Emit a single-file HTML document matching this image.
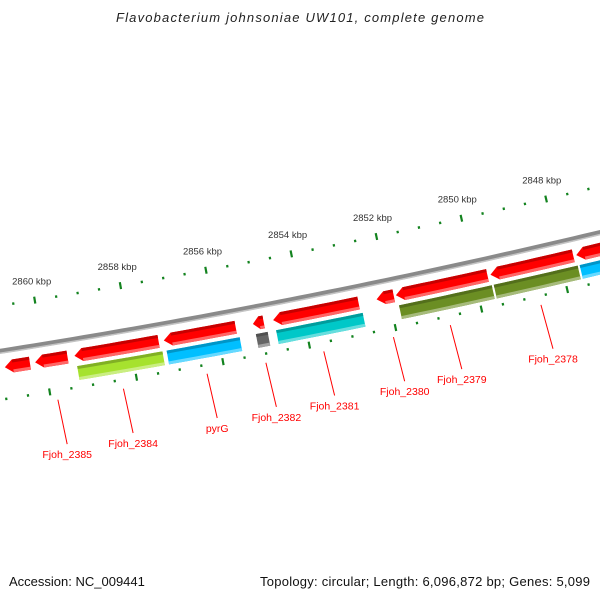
<!DOCTYPE html>
<html><head><meta charset="utf-8"><style>
html,body{margin:0;padding:0;background:#fff;}
svg{display:block;}
text{font-family:"Liberation Sans","DejaVu Sans",sans-serif;}
</style></head><body>
<svg id="map" width="600" height="600" viewBox="0 0 600 600" xmlns="http://www.w3.org/2000/svg">
<rect x="0" y="0" width="600" height="600" fill="#fff"/>
<text x="116" y="22" textLength="368" lengthAdjust="spacing" font-size="13" font-style="italic" fill="#222">Flavobacterium johnsoniae UW101, complete genome</text>
<g id="ticks"></g>
<g id="backbone"></g>
<g id="genes"></g>
<g id="labels"></g>
<text x="9" y="586" font-size="13" fill="#111">Accession: NC_009441</text>
<text x="260" y="586" textLength="330" lengthAdjust="spacing" font-size="13" fill="#111">Topology: circular; Length: 6,096,872 bp; Genes: 5,099</text>
</svg>
<script>
// ---- data ----
const geneStarts = [2860.92, 2860.22, 2859.31, 2857.24, 2855.17, 2854.70, 2852.29, 2851.84, 2849.63, 2847.62];
const geneEnds   = [2860.34, 2859.47, 2857.36, 2855.57, 2854.92, 2852.71, 2851.89, 2849.70, 2847.69, 2846.30];
const geneCogColors = [null, null, "#a6e22e", "#00bfff", "#666666", "#00c8c8", null, "#6b8e23", "#6b8e23", "#00bfff"];
const geneLabels = ["", "Fjoh_2385", "Fjoh_2384", "pyrG", "Fjoh_2382", "Fjoh_2381", "Fjoh_2380", "Fjoh_2379", "Fjoh_2378", ""];
const majorTicks = [2860, 2858, 2856, 2854, 2852, 2850, 2848];
const tickLabels = ["2860 kbp", "2858 kbp", "2856 kbp", "2854 kbp", "2852 kbp", "2850 kbp", "2848 kbp"];
const minorTickStart = 2861.5, minorTickEnd = 2845.5;

// ---- geometry ----
const NS = "http://www.w3.org/2000/svg";
const R = 7800, PXPERKBP = 43.7, REFKBP = 2854;
const nx = 0.194, ny = 0.981;
const CX = 300 - R*nx, CY = 298 - R*ny;
const A0 = Math.atan2(ny, nx);
function sOf(kbp){ return (REFKBP - kbp) * PXPERKBP; }
function pt(s, d){ const a = A0 - s/R; return [CX + (R+d)*Math.cos(a), CY + (R+d)*Math.sin(a)]; }
function arcPts(s1, s2, d){ const n = Math.max(2, Math.ceil(Math.abs(s2-s1)/10)); const out=[]; for(let i=0;i<=n;i++){ out.push(pt(s1+(s2-s1)*i/n, d)); } return out; }
function ptsStr(p){ return p.map(q=>q[0].toFixed(2)+","+q[1].toFixed(2)).join(" "); }
function mk(tag, attrs, parent){ const e=document.createElementNS(NS,tag); for(const k in attrs) e.setAttribute(k, attrs[k]); parent.appendChild(e); return e; }
function shade(hex, f){ const n=parseInt(hex.slice(1),16); let r=n>>16,g=(n>>8)&255,b=n&255; if(f<0){r*=1+f;g*=1+f;b*=1+f;} else {r+= (255-r)*f; g+=(255-g)*f; b+=(255-b)*f;} return "rgb("+Math.round(r)+","+Math.round(g)+","+Math.round(b)+")"; }

// ---- ticks ----
const tg = document.getElementById("ticks");
function tickRing(d){
  for(let k=minorTickStart; k>=minorTickEnd-1e-9; k-=0.5){
    const s=sOf(k); const isMajor = Math.abs(k/2 - Math.round(k/2))<1e-6;
    const len = isMajor ? 7 : 2.5;
    const a=pt(s, d-len/2), b=pt(s, d+len/2);
    const l = mk("line",{x1:a[0],y1:a[1],x2:b[0],y2:b[1],stroke:"#13831f","stroke-width":2.2},tg);
    
    
  }
}
tickRing(-45); tickRing(48);
majorTicks.forEach((k,i)=>{
  const p = pt(sOf(k), -64);
  const t = mk("text",{x:p[0].toFixed(1),y:(p[1]+3).toFixed(1),"text-anchor":"middle","font-size":"9.5",fill:"#333"},tg);
  t.textContent = tickLabels[i];
  
  
});

// ---- backbone ----
const bg = document.getElementById("backbone");
const bbMain = mk("polyline",{points:ptsStr(arcPts(-420,420,0)),fill:"none",stroke:"#8a8a8a","stroke-width":5},bg);


const bbLight = mk("polyline",{points:ptsStr(arcPts(-420,420,2)),fill:"none",stroke:"#c4c4c4","stroke-width":1.5},bg);



// ---- genes ----
const gg = document.getElementById("genes");
function bar(sa, sb, d1, d2, color, arrow, name){
  const g = mk("g",{},gg);
  
  
  const h = arrow ? Math.min(8, (sb-sa)*0.6) : 0;
  let poly = arcPts(sa+h, sb, d1).concat(arcPts(sb, sa+h, d2));
  if(arrow) poly.push(pt(sa, (d1+d2)/2));
  mk("polygon",{points:ptsStr(poly),fill:color},g);
  const top = arcPts(sa+h, sb, d1).concat(arcPts(sb, sa+h, d1+3));
  mk("polygon",{points:ptsStr(top),fill:shade(color,-0.22)},g);
  const bot = arcPts(sa+h, sb, d2-3).concat(arcPts(sb, sa+h, d2));
  mk("polygon",{points:ptsStr(bot),fill:shade(color,0.4)},g);
  return g;
}
for(let i=0;i<geneStarts.length;i++){
  const sa = sOf(geneStarts[i]), sb = sOf(geneEnds[i]);
  bar(sa, sb, 10, 23, "#ff0000", true, "gene-arrow-"+(i+1));
  if(geneCogColors[i]) bar(sa+1, sb+2, 27, 41, geneCogColors[i], false, "gene-cog-bar-"+(i+1));
}

// ---- labels ----
const lg = document.getElementById("labels");
for(let i=0;i<geneLabels.length;i++){
  if(!geneLabels[i]) continue;
  const sc = sOf((geneStarts[i]+geneEnds[i])/2);
  const a = pt(sc, 57), b = pt(sc, 102);
  const ln = mk("line",{x1:a[0],y1:a[1],x2:b[0]+2,y2:b[1],stroke:"#ff0000","stroke-width":1},lg);
  
  
  const t = mk("text",{x:(b[0]+2).toFixed(1),y:(b[1]+14).toFixed(1),"text-anchor":"middle","font-size":"10.5",fill:"#ff0000"},lg);
  t.textContent = geneLabels[i];
  
  
}
</script>
</body></html>
